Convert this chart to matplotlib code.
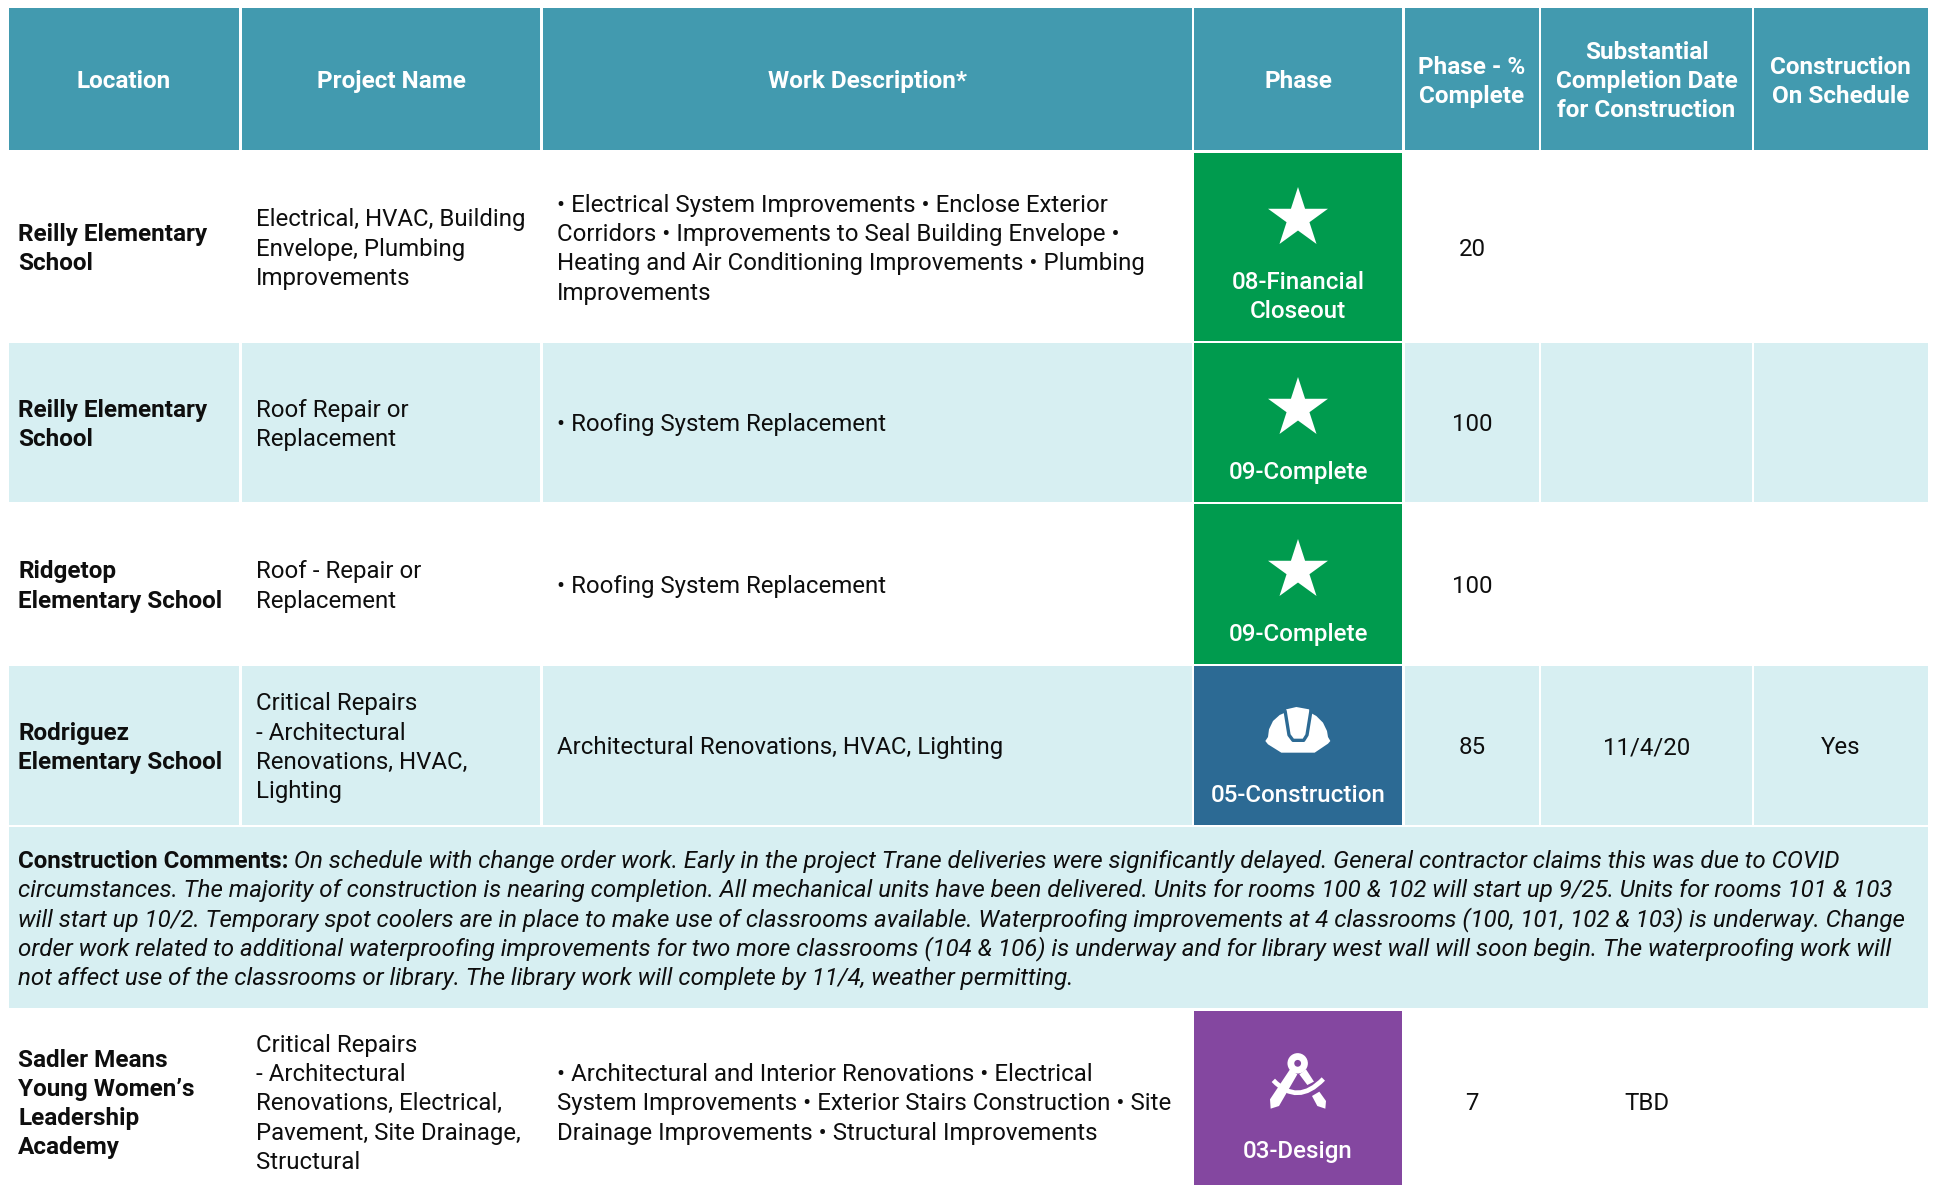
import numpy as np
import matplotlib
matplotlib.use("Agg")
import matplotlib.pyplot as plt
from matplotlib.patches import Rectangle, Polygon, Circle, PathPatch
from matplotlib.path import Path

plt.rcParams['font.family'] = ['Roboto', 'DejaVu Sans']

# ---------- content ----------
headers = [["Location"], ["Project Name"], ["Work Description*"], ["Phase"],
           ["Phase - %", "Complete"],
           ["Substantial", "Completion Date", "for Construction"],
           ["Construction", "On Schedule"]]
locations = [["Reilly Elementary", "School"],
             ["Reilly Elementary", "School"],
             ["Ridgetop", "Elementary School"],
             ["Rodriguez", "Elementary School"],
             ["Sadler Means", "Young Women’s", "Leadership", "Academy"]]
projects = [["Electrical, HVAC, Building", "Envelope, Plumbing", "Improvements"],
            ["Roof Repair or", "Replacement"],
            ["Roof - Repair or", "Replacement"],
            ["Critical Repairs", "- Architectural", "Renovations, HVAC,", "Lighting"],
            ["Critical Repairs", "- Architectural", "Renovations, Electrical,",
             "Pavement, Site Drainage,", "Structural"]]
descriptions = [["• Electrical System Improvements • Enclose Exterior",
                 "Corridors • Improvements to Seal Building Envelope •",
                 "Heating and Air Conditioning Improvements • Plumbing",
                 "Improvements"],
                ["• Roofing System Replacement"],
                ["• Roofing System Replacement"],
                ["Architectural Renovations, HVAC, Lighting"],
                ["• Architectural and Interior Renovations • Electrical",
                 "System Improvements • Exterior Stairs Construction • Site",
                 "Drainage Improvements • Structural Improvements"]]
phases = [["08-Financial", "Closeout"], ["09-Complete"], ["09-Complete"],
          ["05-Construction"], ["03-Design"]]
icons = ["star", "star", "star", "hat", "compass"]
percents = ["20", "100", "100", "85", "7"]
dates = ["", "", "", "11/4/20", "TBD"]
on_schedule = ["", "", "", "Yes", ""]
comment_label = "Construction Comments:"
comment_lines = [
    " On schedule with change order work. Early in the project Trane deliveries were significantly delayed. General contractor claims this was due to COVID",
    "circumstances. The majority of construction is nearing completion. All mechanical units have been delivered. Units for rooms 100 & 102 will start up 9/25. Units for rooms 101 & 103",
    "will start up 10/2. Temporary spot coolers are in place to make use of classrooms available. Waterproofing improvements at 4 classrooms (100, 101, 102 & 103) is underway. Change",
    "order work related to additional waterproofing improvements for two more classrooms (104 & 106) is underway and for library west wall will soon begin. The waterproofing work will",
    "not affect use of the classrooms or library. The library work will complete by 11/4, weather permitting.",
]

# ---------- layout (pixels) ----------
W, H = 1935, 1185
col_l = [8.5, 242, 543, 1194, 1405, 1541, 1754]
col_r = [239, 540, 1192, 1402, 1539, 1752, 1927.5]
row_t = [152.5, 343, 504, 666, 1011]
row_b = [341, 502, 664, 825, 1192]
label_y = [280, 470, 632, 793, 1149]
comment_box = (827, 1007.5)
LH = 29.3
FS = 17.29
FS_B = 17.5
FS_H = 17.5

C_HEAD = "#429AAF"
C_ALT = "#D7EFF2"
C_TXT = "#0E0E0E"
phase_col = {"star": "#009B4E", "hat": "#2C6A94", "compass": "#8447A0"}

fig = plt.figure(figsize=(W / 100, H / 100), dpi=100, facecolor="white")
ax = fig.add_axes([0, 0, 1, 1])
ax.set_xlim(0, W)
ax.set_ylim(H, 0)
ax.axis("off")


def lines(x, yc, ls, ha="left", color=C_TXT, weight="normal", style="normal", fs=FS, lh=LH):
    n = len(ls)
    for i, s in enumerate(ls):
        y = yc + (i - (n - 1) / 2) * lh + 0.354 * fs * 100 / 72 + 0.4
        ax.text(x, y, s, ha=ha, va="baseline", color=color, fontweight=weight,
                fontstyle=style, fontsize=fs)


def rect(x0, y0, x1, y1, c, **kw):
    ax.add_patch(Rectangle((x0, y0), x1 - x0, y1 - y0, fc=c, ec="none", **kw))


def star(cx, cy, R=31.5, c="white"):
    a = np.deg2rad(-90 + 36 * np.arange(10))
    r = np.where(np.arange(10) % 2 == 0, R, R * 0.382)
    ax.add_patch(Polygon(np.c_[cx + r * np.cos(a), cy + r * np.sin(a)], fc=c, ec="none"))


def hat(cx, cy, bg):
    pts = [(257, 240), (265, 228), (268, 205), (280, 180), (300, 162), (316, 155), (320, 145),
           (350, 138), (388, 145), (392, 155), (410, 165), (430, 185), (442, 210), (445, 228),
           (452, 240), (445, 248), (405, 275), (305, 275), (265, 250)]
    P = np.array(pts, float)
    P = (P - [355, 207]) / 3 + [cx, cy]
    ax.add_patch(Polygon(P, fc="white", ec="none"))
    U = np.array([(316, 148), (328, 222), (340, 238), (372, 238), (382, 222), (394, 148)], float)
    U = (U - [355, 207]) / 3 + [cx, cy]
    ax.plot(U[:, 0], U[:, 1], color=bg, lw=2.4, solid_joinstyle="round", solid_capstyle="butt")


def compass(cx, cy, bg):
    o = np.array([354, 1260.0])
    T = lambda p: (np.array(p, float) - o) / 3 + [cx, cy]
    left = [(330, 1225), (352, 1240), (297, 1335), (272, 1343), (270, 1315)]
    ax.add_patch(Polygon(T([(358, 1240), (378, 1225), (402, 1262), (382, 1272)]), fc="white", ec="none"))
    ax.add_patch(Polygon(T([(396, 1305), (418, 1292), (438, 1320), (436, 1343), (412, 1335)]), fc="white", ec="none"))
    c = T((353, 1207))
    ax.add_patch(Circle(c, 10.2, fc="white", ec="none", zorder=3))
    ax.add_patch(Circle(c, 3.4, fc=bg, ec="none", zorder=4))
    arc = T([(280, 1258), (352, 1335), (430, 1254)])
    ax.add_patch(PathPatch(Path(arc, [Path.MOVETO, Path.CURVE3, Path.CURVE3]), fc="none", ec=bg, lw=6.0, zorder=2))
    ax.add_patch(Polygon(T(left), fc="white", ec="none", zorder=2.2))
    ax.add_patch(PathPatch(Path(arc, [Path.MOVETO, Path.CURVE3, Path.CURVE3]), fc="none", ec="white", lw=3.4, zorder=2.5))


# header
for j, h in enumerate(headers):
    rect(col_l[j], 8, col_r[j], 150, C_HEAD)
    lines((col_l[j] + col_r[j]) / 2, 79.4, h, ha="center", color="white", weight="bold", fs=FS_H, lh=29.0)

# body rows
for i in range(5):
    t, b = row_t[i], row_b[i]
    yc = (t + b) / 2
    if i % 2 == 1:
        for j in range(7):
            rect(col_l[j], t, col_r[j], b, C_ALT)
    lines(18, yc, locations[i], weight="bold", fs=FS_B)
    lines(256, yc, projects[i])
    lines(557, yc, descriptions[i])
    cx = (col_l[3] + col_r[3]) / 2
    cols = phase_col[icons[i]]
    rect(col_l[3], t, col_r[3], b, cols)
    ly = label_y[i]
    for k, s in enumerate(phases[i]):
        lines(cx, ly + k * LH, [s], ha="center", color="white", weight="medium", fs=17.4)
    if icons[i] == "star":
        star(cx, ly - 61.5)
    elif icons[i] == "hat":
        hat(cx, 730, cols)
    else:
        compass(cx, 1081, cols)
    lines((col_l[4] + col_r[4]) / 2, yc, [percents[i]], ha="center")
    lines((col_l[5] + col_r[5]) / 2, yc, [dates[i]], ha="center")
    lines((col_l[6] + col_r[6]) / 2, yc, [on_schedule[i]], ha="center")

# comment band
rect(col_l[0], comment_box[0], col_r[6], comment_box[1], C_ALT)
yc = sum(comment_box) / 2
n = len(comment_lines)
base = lambda i: yc + (i - (n - 1) / 2) * 29.05 + 0.354 * 17.4 * 100 / 72 + 0.6
lab = ax.text(18, base(0), comment_label, fontweight="bold", fontsize=17.4, color=C_TXT, va="baseline")
fig.canvas.draw()
x_end = ax.transData.inverted().transform(lab.get_window_extent().get_points())[1, 0]
ax.text(x_end, base(0), comment_lines[0], fontstyle="italic", fontsize=17.4, color=C_TXT, va="baseline")
for i in range(1, n):
    ax.text(18, base(i), comment_lines[i], fontstyle="italic", fontsize=17.4, color=C_TXT, va="baseline")

fig.savefig("out.png", dpi=100)
